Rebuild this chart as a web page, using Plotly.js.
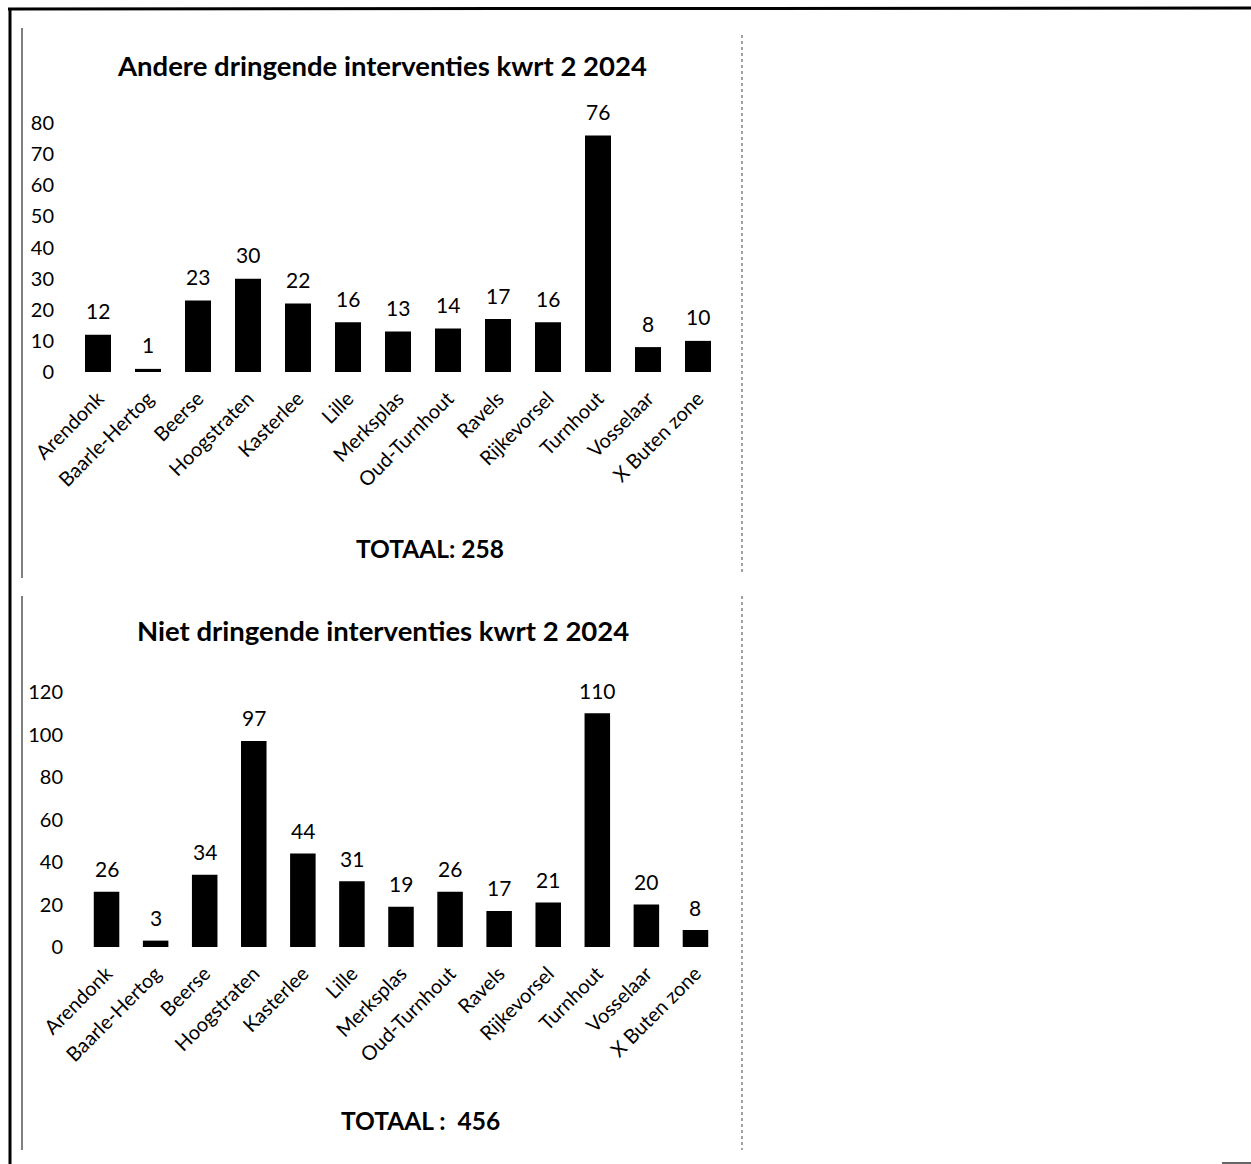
<!DOCTYPE html>
<html>
<head>
<meta charset="utf-8">
<script src="https://cdn.plot.ly/plotly-3.0.1.min.js"></script>
<style>html,body{margin:0;padding:0;background:#fff;}#chart{width:1251px;height:1164px;}</style>
</head>
<body>
<div id="chart"></div>
<script>
const categories = ["Arendonk","Baarle-Hertog","Beerse","Hoogstraten","Kasterlee","Lille","Merksplas","Oud-Turnhout","Ravels","Rijkevorsel","Turnhout","Vosselaar","X Buiten zone"];
const categoryLabels = ["Arendonk","Baarle-Hertog","Beerse","Hoogstraten","Kasterlee","Lille","Merksplas","Oud-Turnhout","Ravels","Rijkevorsel","Turnhout","Vosselaar","X Buten zone"];
const urgentValues = [12,1,23,30,22,16,13,14,17,16,76,8,10];
const nonUrgentValues = [26,3,34,97,44,31,19,26,17,21,110,20,8];
const title1 = "Andere dringende interventies kwrt 2 2024";
const title2 = "Niet dringende interventies kwrt 2 2024";
const total1 = "TOTAAL: 258";
const total2 = "TOTAAL :  456";
const yTicks1 = [0,10,20,30,40,50,60,70,80];
const yTicks2 = [0,20,40,60,80,100,120];

const W = 1251, H = 1164;
const px = x => x / W;
const py = y => 1 - y / H;
const FONT = "Lato, 'Open Sans', sans-serif";

const traces = [
  {type:'bar', x:categories, y:urgentValues, xaxis:'x', yaxis:'y',
   marker:{color:'#000'}, hoverinfo:'none'},
  {type:'bar', x:categories, y:nonUrgentValues, xaxis:'x2', yaxis:'y2',
   marker:{color:'#000'}, hoverinfo:'none'}
];

const xCommon = {type:'category', tickangle:-45, showline:false, showgrid:false, zeroline:false,
  ticks:'', tickfont:{family:FONT,size:20,color:'#000'}, tickvals:categories, ticktext:categoryLabels,
  ticklabelstandoff:10};
const yCommon = {showline:false, showgrid:false, zeroline:false, ticks:'',
  tickfont:{family:FONT,size:20,color:'#000'}, ticklabelstandoff:18};

const valueLabels = [];
categories.forEach((c,i) => {
  valueLabels.push({text:String(urgentValues[i]), x:c, y:urgentValues[i], xref:'x', yref:'y',
    showarrow:false, xanchor:'center', yanchor:'middle', yshift:24,
    font:{family:FONT,size:21,color:'#000'}});
  valueLabels.push({text:String(nonUrgentValues[i]), x:c, y:nonUrgentValues[i], xref:'x2', yref:'y2',
    showarrow:false, xanchor:'center', yanchor:'middle', yshift:23,
    font:{family:FONT,size:21,color:'#000'}});
});

const layout = {
  width:W, height:H, margin:{l:0,r:0,t:0,b:0},
  paper_bgcolor:'#fff', plot_bgcolor:'rgba(0,0,0,0)',
  showlegend:false, bargap:0.48,
  font:{family:FONT,color:'#000'},
  xaxis:Object.assign({}, xCommon, {domain:[px(73), px(723)], anchor:'y'}),
  yaxis:Object.assign({}, yCommon, {domain:[py(372), py(123)], range:[0,80], tickvals:yTicks1, anchor:'x'}),
  xaxis2:Object.assign({}, xCommon, {domain:[px(82), px(720)], anchor:'y2'}),
  yaxis2:Object.assign({}, yCommon, {domain:[py(947), py(692)], range:[0,120], tickvals:yTicks2, anchor:'x2'}),
  annotations:[
    {text:'<b>'+title1+'</b>', xref:'paper', yref:'paper', x:px(382), y:py(65), showarrow:false, xanchor:'center', yanchor:'middle', font:{family:FONT,size:27.5,color:'#000'}},
    {text:'<b>'+title2+'</b>', xref:'paper', yref:'paper', x:px(383), y:py(630), showarrow:false, xanchor:'center', yanchor:'middle', font:{family:FONT,size:27.5,color:'#000'}},
    {text:'<b>'+total1+'</b>', xref:'paper', yref:'paper', x:px(430), y:py(548), showarrow:false, xanchor:'center', yanchor:'middle', font:{family:FONT,size:24.5,color:'#000'}},
    {text:'<b>'+total2+'</b>', xref:'paper', yref:'paper', x:px(420), y:py(1120), showarrow:false, xanchor:'center', yanchor:'middle', font:{family:FONT,size:24.5,color:'#000'}}
  ].concat(valueLabels),
  shapes:[
    {type:'line', xref:'paper', yref:'paper', x0:px(8), x1:1, y0:py(9), y1:py(8), line:{color:'#000', width:3}},
    {type:'line', xref:'paper', yref:'paper', x0:px(10), x1:px(10), y0:py(8), y1:0, line:{color:'#000', width:3}},
    {type:'line', xref:'paper', yref:'paper', x0:px(22), x1:px(22), y0:py(28), y1:py(578), line:{color:'#000', width:1}},
    {type:'line', xref:'paper', yref:'paper', x0:px(22), x1:px(22), y0:py(596), y1:py(1150), line:{color:'#000', width:1}},
    {type:'line', xref:'paper', yref:'paper', x0:px(742), x1:px(742), y0:py(35), y1:py(572), line:{color:'#444', width:1, dash:'dot'}},
    {type:'line', xref:'paper', yref:'paper', x0:px(742), x1:px(742), y0:py(596), y1:py(1150), line:{color:'#444', width:1, dash:'dot'}},
    {type:'line', xref:'paper', yref:'paper', x0:px(1222), x1:1, y0:py(1163), y1:py(1163), line:{color:'#666', width:2}}
  ]
};

Plotly.newPlot('chart', traces, layout, {staticPlot:true, displayModeBar:false});
</script>
</body>
</html>
